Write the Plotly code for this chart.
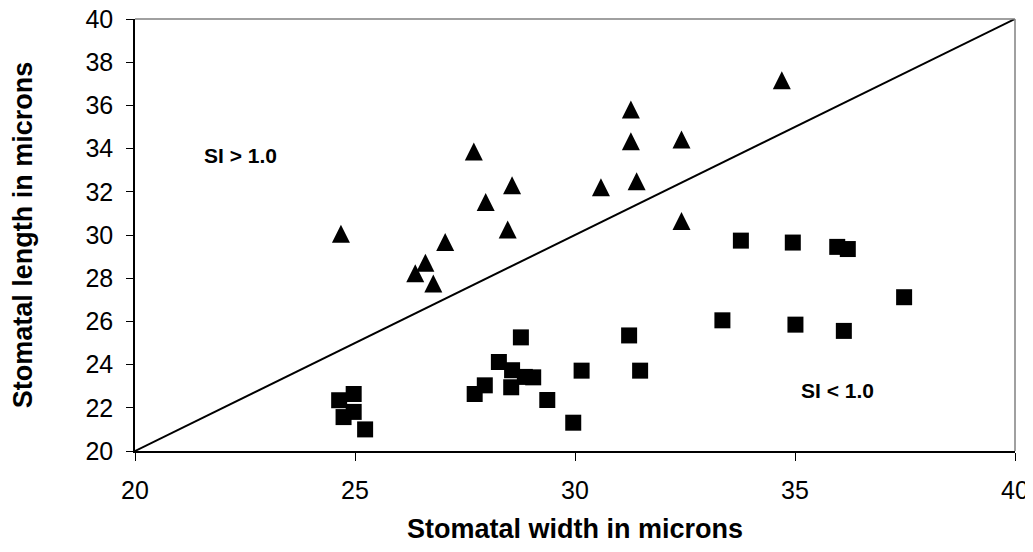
import plotly.graph_objects as go

# Triangles: SI > 1.0 group (width, length in microns)
tri_x = [24.68, 26.37, 26.60, 26.78, 27.05, 27.70, 27.97, 28.47, 28.57,
         30.59, 31.27, 31.27, 31.40, 32.42, 32.42, 34.70]
tri_y = [30.06, 28.23, 28.72, 27.75, 29.68, 33.87, 31.53, 30.26, 32.30,
         32.21, 35.81, 34.34, 32.49, 34.42, 30.65, 37.16]

# Squares: SI < 1.0 group
sq_x = [24.64, 24.97, 24.97, 24.74, 25.23, 27.72, 27.95, 28.27, 28.57,
        28.55, 28.86, 29.05, 28.77, 29.37, 29.96, 30.15, 31.23, 31.48,
        33.35, 33.77, 34.95, 35.01, 35.96, 36.20, 36.11, 37.48]
sq_y = [22.35, 22.64, 21.81, 21.57, 21.00, 22.64, 23.04, 24.12, 23.74,
        22.95, 23.43, 23.41, 25.26, 22.36, 21.31, 23.72, 25.35, 23.72,
        26.05, 29.74, 29.65, 25.85, 29.45, 29.35, 25.56, 27.12]

# 1:1 reference line (SI = 1.0)
line_x = [20, 40]
line_y = [20, 40]

x_ticks = [20, 25, 30, 35, 40]
y_ticks = [20, 22, 24, 26, 28, 30, 32, 34, 36, 38, 40]

FONT = "Liberation Sans, Arial, sans-serif"

fig = go.Figure()
fig.add_trace(go.Scatter(x=line_x, y=line_y, mode="lines",
                         line=dict(color="black", width=2),
                         showlegend=False, hoverinfo="skip"))
fig.add_trace(go.Scatter(x=tri_x, y=tri_y, mode="markers",
                         marker=dict(symbol="arrow-down", angle=180, standoff=9,
                                     size=18, color="black",
                                     line=dict(width=0)),
                         showlegend=False))
fig.add_trace(go.Scatter(x=sq_x, y=sq_y, mode="markers",
                         marker=dict(symbol="square", size=16, color="black",
                                     line=dict(width=0)),
                         showlegend=False))

fig.add_annotation(x=22.39, y=33.69, text="<b>SI &gt; 1.0</b>", showarrow=False,
                   font=dict(family=FONT, size=21, color="black"))
fig.add_annotation(x=35.97, y=22.81, text="<b>SI &lt; 1.0</b>", showarrow=False,
                   font=dict(family=FONT, size=21, color="black"))

# grey plot-area border on top and right
fig.add_shape(type="line", xref="paper", yref="paper", x0=0, y0=1, x1=1, y1=1,
              line=dict(color="#808080", width=1.5), layer="above")
fig.add_shape(type="line", xref="paper", yref="paper", x0=1, y0=0, x1=1, y1=1,
              line=dict(color="#808080", width=1.5), layer="above")

fig.update_xaxes(range=[20, 40], tickvals=x_ticks, ticktext=[str(v) for v in x_ticks],
                 showgrid=False, zeroline=False, showline=True, linecolor="black",
                 linewidth=1.5, ticks="outside", ticklen=8, tickcolor="black",
                 tickfont=dict(family=FONT, size=25, color="black"),
                 ticklabelstandoff=8, ticklabeloverflow="allow",
                 title=dict(text="<b>Stomatal width in microns</b>", standoff=29,
                            font=dict(family=FONT, size=27, color="black")))
fig.update_yaxes(range=[20, 40], tickvals=y_ticks, ticktext=[str(v) for v in y_ticks],
                 showgrid=False, zeroline=False, showline=True, linecolor="black",
                 linewidth=1.5, ticks="outside", ticklen=7, tickcolor="black",
                 tickfont=dict(family=FONT, size=25, color="black"),
                 ticklabelstandoff=8, ticklabeloverflow="allow",
                 title=dict(text="<b>Stomatal length in microns</b>", standoff=45,
                            font=dict(family=FONT, size=27, color="black")))

# the page body keeps an 8px margin, so the figure is sized to fit without scrolling
fig.update_layout(width=1025, height=536,
                  margin=dict(l=127, r=18, t=11, b=93, autoexpand=False),
                  paper_bgcolor="white", plot_bgcolor="white",
                  font=dict(family=FONT, color="black"))

fig.write_html("out.html")
